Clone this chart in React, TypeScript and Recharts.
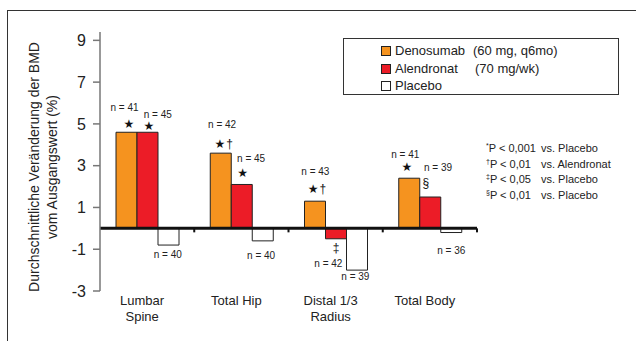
import React from 'react';
import { BarChart, Bar, XAxis, YAxis, ReferenceLine, Legend, LabelList } from 'recharts';

const categories = ['Lumbar\nSpine', 'Total Hip', 'Distal 1/3\nRadius', 'Total Body'];
const denosumab = [4.6, 3.6, 1.3, 2.4];
const alendronat = [4.6, 2.1, -0.5, 1.5];
const placebo = [-0.8, -0.6, -2.0, -0.2];

const nDenosumab = [41, 42, 43, 41];
const nAlendronat = [45, 45, 42, 39];
const nPlacebo = [40, 40, 39, 36];

const marksDenosumab = ['*', '*†', '*†', '*'];
const marksAlendronat = ['*', '*', '‡', '§'];
const marksPlacebo = ['', '', '', ''];

const yTicks = [-3, -1, 1, 3, 5, 7, 9];

const seriesNames = ['Denosumab', 'Alendronat', 'Placebo'];
const doses = ['(60 mg, q6mo)', '(70 mg/wk)', ''];

const footnotes = [
  ['*', 'P < 0,001', 'vs. Placebo'],
  ['†', 'P < 0,01', 'vs. Alendronat'],
  ['‡', 'P < 0,05', 'vs. Placebo'],
  ['§', 'P < 0,01', 'vs. Placebo'],
];

const data = categories.map((c, i) => ({
  name: c,
  denosumab: denosumab[i],
  alendronat: alendronat[i],
  placebo: placebo[i],
}));

const values = [denosumab, alendronat, placebo];
const nCounts = [nDenosumab, nAlendronat, nPlacebo];
const marks = [marksDenosumab, marksAlendronat, marksPlacebo];

// where the little "n = .." and significance marks sit, relative to bar centre / bar end
const nOffsets = [
  [[-2, -25], [1.4, -28.5], [0.4, -29.5], [-4, -24]],
  [[10.3, -18], [9.4, -26], [-7.6, 24.3], [7.8, -29.3]],
  [[-0.7, 9.6], [-1.6, 14.3], [-1.6, 6.7], [0, 18]],
];
const markOffsets = [
  [[2.5, -8], [3, -9], [2, -12], [-2.4, -11.5]],
  [[1.5, -6], [1, -11], [0, 9], [-4.5, -14]],
  [[0, 0], [0, 0], [0, 0], [0, 0]],
];

const FONT = '"Liberation Sans", Arial, Helvetica, sans-serif';
const colors = { denosumab: '#F5931F', alendronat: '#EC1C27', placebo: '#ffffff' };

const renderAnno = (s: number) => (props: any) => {
  const vb = props.viewBox || props;
  const index = props.index;
  const x = Number(vb.x), y = Number(vb.y), w = Number(vb.width), h = Number(vb.height);
  if (isNaN(x) || index == null) return null;
  const cx = x + w / 2;
  const v = values[s][index];
  const end = v >= 0 ? Math.min(y, y + h) : Math.max(y, y + h);
  const [ndx, ndy] = nOffsets[s][index];
  const [mdx, mdy] = markOffsets[s][index];
  const mark = marks[s][index];
  return (
    <g>
      <text x={cx + ndx} y={end + ndy} textAnchor="middle" dominantBaseline="central"
        fontSize={10} fontFamily={FONT} fill="#222">
        {`n = ${nCounts[s][index]}`}
      </text>
      {mark && (
        <text x={cx + mdx} y={end + mdy} textAnchor="middle" dominantBaseline="central" fill="#111">
          {mark.split('').map((ch, i) =>
            ch === '*' ? (
              <tspan key={i} fontSize={12} fontFamily="DejaVu Sans">★</tspan>
            ) : (
              <tspan key={i} fontSize={12} fontFamily={FONT} dx={i > 0 ? 1 : 0}>{ch}</tspan>
            )
          )}
        </text>
      )}
    </g>
  );
};

const ZeroLine = (props: any) => {
  const { x1, y1, x2 } = props;
  const n = categories.length;
  const step = (x2 - x1) / n;
  return (
    <g>
      <line x1={x1} y1={y1} x2={x2} y2={y1} stroke="#111" strokeWidth={3} />
      {categories.map((_, i) => (
        <rect key={i} x={x1 + step * (i + 1) - 1} y={y1} width={2} height={4} fill="#111" />
      ))}
    </g>
  );
};

const CatTick = (props: any) => {
  const { x, y, payload } = props;
  const lines = String(payload.value).split('\n');
  return (
    <text x={x - 5} y={y} textAnchor="middle" fontSize={13} fontFamily={FONT} fill="#222">
      {lines.map((l, i) => (
        <tspan key={i} x={x - 5} dy={i === 0 ? 14 : 16}>{l}</tspan>
      ))}
    </text>
  );
};

const YTitle = () => (
  <g fontFamily={FONT} fontSize={14} fill="#222">
    <text x={34} y={167} transform="rotate(-90 34 167)" textAnchor="middle" dominantBaseline="central">
      Durchschnittliche Veränderung der BMD
    </text>
    <text x={52} y={167} transform="rotate(-90 52 167)" textAnchor="middle" dominantBaseline="central">
      vom Ausgangswert (%)
    </text>
  </g>
);

const LegendBox = (props: any) => {
  const payload = props.payload || [];
  return (
    <div style={{
      width: 276, height: 57, border: '1.5px solid #333', boxSizing: 'border-box',
      fontFamily: FONT, fontSize: 13, color: '#222', paddingTop: 3,
    }}>
      {seriesNames.map((name, i) => {
        const entry = payload.find((p: any) => p.value === name);
        const swatch = entry ? entry.color : '#fff';
        return (
          <div key={name} style={{ position: 'relative', height: 17.5, lineHeight: '17.5px' }}>
            <span style={{
              position: 'absolute', left: 37, top: 4, width: 8, height: 8,
              background: swatch, border: '1px solid #222',
            }} />
            <span style={{ position: 'absolute', left: 51 }}>{name}</span>
            <span style={{ position: 'absolute', left: i === 0 ? 129 : 131 }}>{doses[i]}</span>
          </div>
        );
      })}
    </div>
  );
};

export default function App() {
  return (
    <div style={{ position: 'absolute', left: 0, top: 0, width: 636, height: 341, overflow: 'hidden', background: '#fff' }}>
      <div style={{
        position: 'absolute', left: 7, top: 10, width: 700, height: 400,
        borderTop: '1.5px solid #333', borderLeft: '1.5px solid #333',
      }} />
      <BarChart width={636} height={341} data={data} barGap={0} barSize={21}
        margin={{ top: 32, right: 159, bottom: 0, left: 0 }}>
        <XAxis dataKey="name" height={50} axisLine={false} tickLine={false} tickSize={0} tickMargin={0}
          tick={<CatTick />} interval={0} />
        <YAxis width={100} domain={[-3, 9.4]} ticks={yTicks} allowDataOverflow
          axisLine={{ stroke: '#777', strokeWidth: 1.5 }} tickLine={{ stroke: '#777', strokeWidth: 1.5 }}
          tickSize={7} tickMargin={7} tick={{ fontSize: 16, fontFamily: FONT, fill: '#222' }}
          label={<YTitle />} />
        <Legend layout="vertical" align="center" verticalAlign="middle" content={<LegendBox />}
          wrapperStyle={{ left: 343, top: 38, width: 276, height: 57 }} />
        <Bar dataKey="denosumab" name="Denosumab" fill={colors.denosumab} stroke="#222" strokeWidth={1} isAnimationActive={false}>
          <LabelList dataKey="denosumab" content={renderAnno(0)} />
        </Bar>
        <Bar dataKey="alendronat" name="Alendronat" fill={colors.alendronat} stroke="#222" strokeWidth={1} isAnimationActive={false}>
          <LabelList dataKey="alendronat" content={renderAnno(1)} />
        </Bar>
        <Bar dataKey="placebo" name="Placebo" fill={colors.placebo} stroke="#222" strokeWidth={1} isAnimationActive={false}>
          <LabelList dataKey="placebo" content={renderAnno(2)} />
        </Bar>
        <ReferenceLine y={0} shape={<ZeroLine />} />
      </BarChart>
      <div style={{ position: 'absolute', left: 486, top: 141, fontFamily: FONT, fontSize: 11, color: '#222' }}>
        {footnotes.map((f, i) => (
          <div key={i} style={{ position: 'relative', height: 15.7, lineHeight: '15.7px', whiteSpace: 'nowrap' }}>
            <span style={{ fontSize: 7, verticalAlign: 'top', lineHeight: '10px' }}>{f[0]}</span>
            <span>{f[1]}</span>
            <span style={{ position: 'absolute', left: 55 }}>{f[2]}</span>
          </div>
        ))}
      </div>
    </div>
  );
}
